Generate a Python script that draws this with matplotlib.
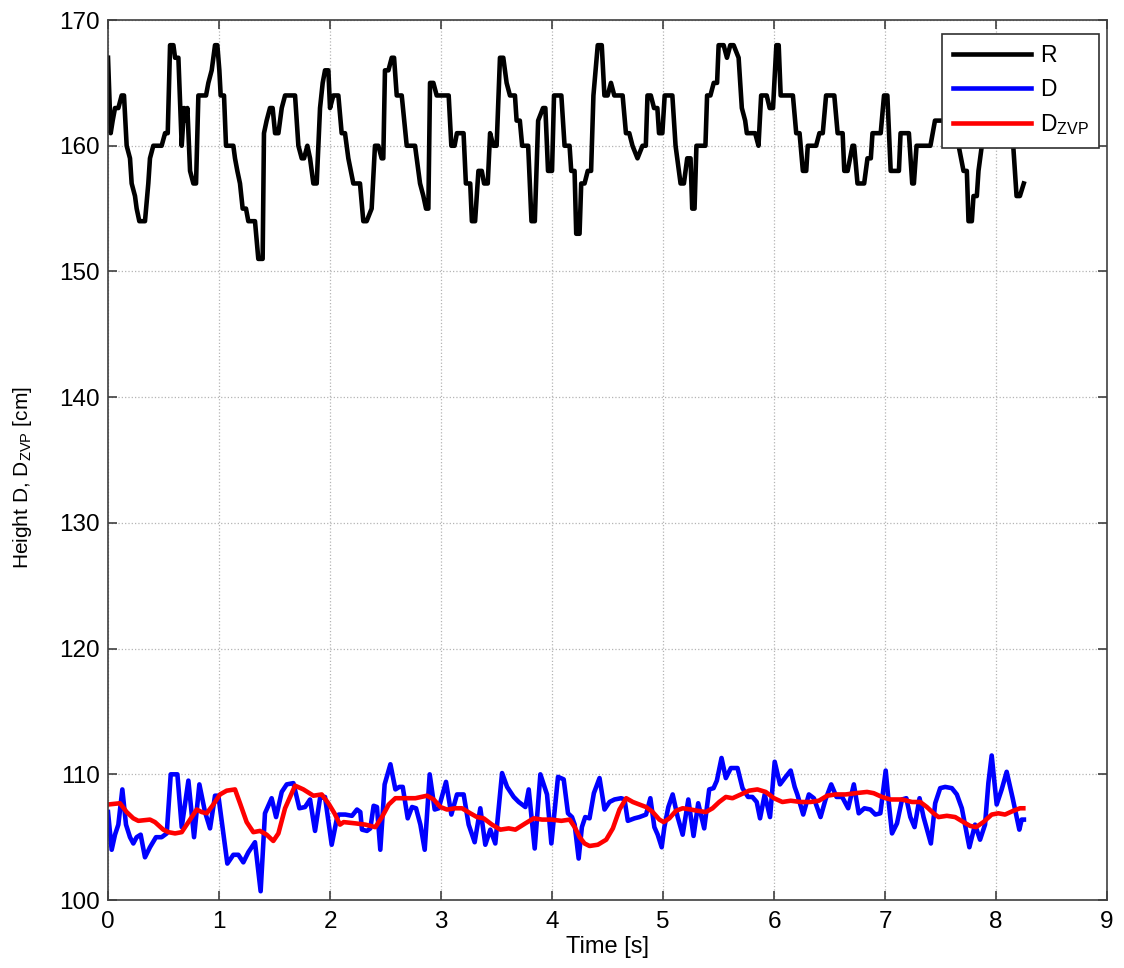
import matplotlib
matplotlib.use("Agg")
import matplotlib.pyplot as plt

plt.rcParams['font.family'] = ['Liberation Sans', 'DejaVu Sans']
plt.rcParams['mathtext.fontset'] = 'custom'
plt.rcParams['mathtext.rm'] = 'Liberation Sans'

# R: reference height (stepwise, cm)
r_t = [0.000, 0.024, 0.042, 0.063, 0.093, 0.123, 0.144, 0.168, 0.198, 0.213,
       0.243, 0.258, 0.282, 0.333, 0.363, 0.378, 0.408, 0.483, 0.514, 0.538,
       0.559, 0.589, 0.604, 0.634, 0.664, 0.685, 0.703, 0.715, 0.739, 0.769,
       0.793, 0.814, 0.883, 0.904, 0.934, 0.964, 0.985, 1.003, 1.015, 1.045,
       1.063, 1.129, 1.144, 1.165, 1.189, 1.213, 1.243, 1.264, 1.324, 1.354,
       1.393, 1.405, 1.429, 1.459, 1.483, 1.505, 1.535, 1.565, 1.595, 1.685,
       1.715, 1.745, 1.766, 1.796, 1.820, 1.850, 1.880, 1.910, 1.934, 1.955,
       1.985, 2.000, 2.030, 2.075, 2.105, 2.135, 2.165, 2.210, 2.270, 2.300,
       2.330, 2.375, 2.405, 2.435, 2.465, 2.480, 2.495, 2.526, 2.556, 2.577,
       2.601, 2.646, 2.691, 2.766, 2.781, 2.811, 2.841, 2.865, 2.886, 2.901,
       2.931, 2.961, 3.069, 3.093, 3.122, 3.143, 3.203, 3.224, 3.263, 3.278,
       3.307, 3.337, 3.367, 3.388, 3.421, 3.442, 3.472, 3.501, 3.531, 3.561,
       3.591, 3.621, 3.666, 3.681, 3.710, 3.731, 3.785, 3.815, 3.845, 3.875,
       3.919, 3.940, 3.964, 4.000, 4.018, 4.084, 4.113, 4.158, 4.173, 4.203,
       4.218, 4.248, 4.263, 4.293, 4.322, 4.352, 4.373, 4.412, 4.448, 4.472,
       4.501, 4.531, 4.561, 4.636, 4.666, 4.696, 4.725, 4.770, 4.815, 4.845,
       4.860, 4.890, 4.919, 4.949, 4.964, 4.994, 5.015, 5.084, 5.113, 5.158,
       5.188, 5.218, 5.248, 5.263, 5.284, 5.301, 5.382, 5.397, 5.427, 5.457,
       5.487, 5.501, 5.546, 5.576, 5.606, 5.636, 5.681, 5.710, 5.740, 5.755,
       5.830, 5.860, 5.884, 5.934, 5.961, 5.991, 6.021, 6.042, 6.060, 6.170,
       6.200, 6.230, 6.260, 6.290, 6.304, 6.379, 6.409, 6.439, 6.469, 6.543,
       6.573, 6.618, 6.633, 6.663, 6.707, 6.722, 6.752, 6.812, 6.842, 6.872,
       6.887, 6.961, 6.991, 7.021, 7.036, 7.051, 7.125, 7.140, 7.215, 7.245,
       7.260, 7.284, 7.409, 7.450, 7.550, 7.620, 7.663, 7.707, 7.737, 7.752,
       7.782, 7.797, 7.827, 7.842, 7.872, 7.887, 7.930, 8.050, 8.100, 8.155,
       8.185, 8.215, 8.250]
r_v = [167, 161, 162, 163, 163, 164, 164, 160, 159, 157,
       156, 155, 154, 154, 157, 159, 160, 160, 161, 161,
       168, 168, 167, 167, 160, 163, 162, 163, 158, 157,
       157, 164, 164, 165, 166, 168, 168, 166, 164, 164,
       160, 160, 159, 158, 157, 155, 155, 154, 154, 151,
       151, 161, 162, 163, 163, 161, 161, 163, 164, 164,
       160, 159, 159, 160, 159, 157, 157, 163, 165, 166,
       166, 163, 164, 164, 161, 161, 159, 157, 157, 154,
       154, 155, 160, 160, 159, 159, 166, 166, 167, 167,
       164, 164, 160, 160, 159, 157, 156, 155, 155, 165,
       165, 164, 164, 160, 160, 161, 161, 157, 157, 154,
       154, 158, 158, 157, 157, 161, 160, 160, 167, 167,
       165, 164, 164, 162, 162, 160, 160, 154, 154, 162,
       163, 163, 158, 158, 164, 164, 160, 160, 158, 158,
       153, 153, 157, 157, 158, 158, 164, 168, 168, 164,
       164, 165, 164, 164, 161, 161, 160, 159, 160, 160,
       164, 164, 163, 163, 161, 161, 164, 164, 160, 157,
       157, 159, 159, 155, 155, 160, 160, 164, 164, 165,
       165, 168, 168, 167, 168, 168, 167, 163, 162, 161,
       161, 160, 164, 164, 163, 163, 168, 168, 164, 164,
       161, 161, 158, 158, 160, 160, 161, 161, 164, 164,
       161, 161, 158, 158, 160, 160, 157, 157, 159, 159,
       161, 161, 164, 164, 161, 158, 158, 161, 161, 157,
       157, 160, 160, 162, 162, 160, 160, 158, 158, 154,
       154, 156, 156, 158, 160, 160, 163, 163, 162, 160,
       156, 156, 157]

# D: measured height
d_t = [0.000, 0.033, 0.063, 0.093, 0.129, 0.162, 0.198, 0.228, 0.258, 0.294,
       0.333, 0.378, 0.432, 0.483, 0.529, 0.565, 0.625, 0.664, 0.724, 0.775,
       0.823, 0.874, 0.919, 0.964, 0.994, 1.033, 1.075, 1.129, 1.174, 1.219,
       1.264, 1.324, 1.375, 1.414, 1.474, 1.514, 1.565, 1.610, 1.670, 1.724,
       1.775, 1.820, 1.865, 1.910, 1.955, 2.015, 2.060, 2.078, 2.138, 2.198,
       2.243, 2.273, 2.288, 2.333, 2.363, 2.393, 2.423, 2.453, 2.492, 2.544,
       2.589, 2.625, 2.655, 2.700, 2.739, 2.775, 2.814, 2.853, 2.898, 2.943,
       2.979, 3.045, 3.093, 3.144, 3.204, 3.249, 3.303, 3.354, 3.399, 3.444,
       3.489, 3.550, 3.595, 3.655, 3.700, 3.760, 3.790, 3.844, 3.895, 3.955,
       3.994, 4.054, 4.105, 4.144, 4.180, 4.204, 4.240, 4.269, 4.299, 4.338,
       4.377, 4.428, 4.473, 4.518, 4.563, 4.623, 4.653, 4.683, 4.743, 4.787,
       4.847, 4.886, 4.922, 4.952, 4.988, 5.012, 5.048, 5.087, 5.132, 5.177,
       5.228, 5.275, 5.317, 5.371, 5.416, 5.455, 5.485, 5.527, 5.566, 5.611,
       5.671, 5.716, 5.766, 5.805, 5.844, 5.874, 5.916, 5.964, 6.006, 6.054,
       6.105, 6.150, 6.186, 6.210, 6.263, 6.314, 6.359, 6.419, 6.464, 6.515,
       6.563, 6.614, 6.668, 6.719, 6.763, 6.814, 6.868, 6.913, 6.958, 7.006,
       7.033, 7.063, 7.108, 7.153, 7.192, 7.228, 7.266, 7.311, 7.347, 7.413,
       7.452, 7.497, 7.542, 7.602, 7.647, 7.692, 7.760, 7.811, 7.856, 7.901,
       7.931, 7.961, 8.006, 8.051, 8.096, 8.150, 8.210, 8.231, 8.251]
d_v = [107.0, 104.0, 105.2, 106.0, 108.8, 106.0, 105.0, 104.5, 105.0, 105.2,
       103.4, 104.2, 105.0, 105.0, 105.3, 110.0, 110.0, 105.8, 109.5, 105.0,
       109.2, 107.0, 105.7, 108.3, 108.3, 105.7, 102.9, 103.6, 103.6, 103.0,
       103.8, 104.6, 100.7, 106.9, 108.1, 106.6, 108.6, 109.2, 109.3, 107.3,
       107.4, 108.0, 105.5, 108.1, 108.2, 104.4, 106.4, 106.8, 106.8, 106.7,
       107.2, 107.0, 105.6, 105.5, 105.7, 107.5, 107.4, 104.0, 109.2, 110.8,
       108.8, 109.0, 109.0, 106.5, 107.4, 107.3, 106.0, 104.0, 110.0, 107.2,
       107.3, 109.4, 106.8, 108.4, 108.4, 106.0, 104.6, 107.3, 104.4, 105.6,
       104.5, 110.1, 109.0, 108.2, 107.8, 107.4, 108.8, 104.1, 110.0, 108.4,
       104.5, 109.8, 109.6, 106.9, 106.6, 106.0, 103.3, 105.8, 106.6, 106.5,
       108.5, 109.7, 107.2, 107.8, 108.0, 108.1, 108.0, 106.3, 106.5, 106.6,
       106.8, 108.1, 105.8, 105.2, 104.2, 105.8, 107.4, 108.4, 106.6, 105.2,
       108.0, 105.1, 107.7, 105.7, 108.8, 108.9, 109.5, 111.3, 109.7, 110.5,
       110.5, 108.9, 108.2, 108.2, 107.8, 106.5, 108.4, 106.6, 111.0, 109.2,
       109.8, 110.3, 109.0, 108.4, 106.8, 108.4, 108.1, 106.6, 108.0, 109.2,
       108.2, 108.2, 107.3, 109.2, 106.9, 107.3, 107.2, 106.8, 106.9, 110.3,
       107.8, 105.3, 106.1, 108.0, 108.1, 106.6, 105.8, 108.1, 106.6, 104.5,
       107.7, 108.9, 109.0, 108.9, 108.4, 107.3, 104.2, 106.0, 104.8, 106.0,
       109.3, 111.5, 107.6, 108.8, 110.2, 108.1, 105.6, 106.4, 106.4]

# D_ZVP: smoothed height at zero-velocity points
z_t = [0.000, 0.108, 0.168, 0.228, 0.273, 0.378, 0.423, 0.498, 0.544, 0.604,
       0.664, 0.724, 0.799, 0.844, 0.889, 0.949, 1.009, 1.069, 1.144, 1.189,
       1.249, 1.309, 1.369, 1.429, 1.489, 1.535, 1.595, 1.685, 1.760, 1.850,
       1.925, 1.985, 2.040, 2.090, 2.123, 2.228, 2.318, 2.408, 2.468, 2.529,
       2.589, 2.679, 2.769, 2.874, 2.934, 2.994, 3.054, 3.129, 3.189, 3.264,
       3.324, 3.384, 3.459, 3.535, 3.610, 3.670, 3.760, 3.835, 3.910, 3.994,
       4.084, 4.159, 4.204, 4.249, 4.293, 4.338, 4.413, 4.488, 4.548, 4.608,
       4.668, 4.728, 4.787, 4.847, 4.907, 4.967, 5.006, 5.057, 5.117, 5.177,
       5.251, 5.311, 5.386, 5.446, 5.506, 5.566, 5.626, 5.701, 5.775, 5.850,
       5.925, 6.000, 6.075, 6.150, 6.240, 6.329, 6.404, 6.479, 6.554, 6.644,
       6.734, 6.838, 6.898, 6.973, 7.048, 7.153, 7.243, 7.317, 7.377, 7.437,
       7.482, 7.557, 7.632, 7.707, 7.766, 7.820, 7.886, 7.961, 8.021, 8.081,
       8.156, 8.216, 8.246]
z_v = [107.6, 107.7, 107.0, 106.5, 106.3, 106.4, 106.2, 105.6, 105.4, 105.3,
       105.4, 106.2, 107.2, 107.0, 106.9, 107.6, 108.4, 108.7, 108.8, 107.7,
       106.2, 105.4, 105.5, 105.2, 104.7, 105.3, 107.3, 109.1, 108.8, 108.3,
       108.4, 107.7, 106.9, 106.0, 106.2, 106.1, 106.0, 105.8, 106.6, 107.6,
       108.1, 108.1, 108.1, 108.3, 108.0, 107.4, 107.2, 107.3, 107.3, 106.9,
       106.6, 106.5, 106.0, 105.6, 105.7, 105.6, 106.1, 106.5, 106.4, 106.4,
       106.3, 106.4, 105.8, 105.0, 104.5, 104.3, 104.4, 104.8, 105.7, 107.2,
       108.1, 107.8, 107.6, 107.4, 107.0, 106.4, 106.2, 106.5, 107.1, 107.3,
       107.2, 107.1, 107.0, 107.3, 107.8, 108.2, 108.1, 108.4, 108.7, 108.8,
       108.6, 108.1, 107.8, 107.9, 107.8, 107.8, 107.9, 108.3, 108.4, 108.4,
       108.5, 108.6, 108.5, 108.2, 108.0, 108.0, 107.8, 107.8, 107.4, 106.9,
       106.6, 106.7, 106.6, 106.2, 105.9, 105.8, 106.2, 106.8, 106.9, 106.8,
       107.1, 107.3, 107.3]

fig = plt.figure(figsize=(11.24, 9.68), dpi=100)
ax = fig.add_axes([0.0961, 0.0702, 0.8888, 0.9091])

ax.plot(r_t, r_v, color='black', linewidth=3.3, label='R')
ax.plot(d_t, d_v, color='#0000ff', linewidth=3.3, label='D')
ax.plot(z_t, z_v, color='#ff0000', linewidth=3.3, label=r'D$_\mathregular{ZVP}$')

ax.set_xlim(0, 9)
ax.set_ylim(100, 170)
ax.set_xticks(range(0, 10))
ax.set_yticks(range(100, 171, 10))
ax.grid(True, linestyle=':', color='#b4b4b4', linewidth=0.9)

for s in ax.spines.values():
    s.set_color('#404040')
    s.set_linewidth(1.2)
ax.tick_params(direction='in', length=6.5, width=1.2, color='#404040',
               top=True, right=True, labelsize=17.5, pad=6)
ax.tick_params(axis='x', pad=8)

ax.set_xlabel('Time [s]', fontsize=17)
ax.set_ylabel(r'Height D, D$_\mathregular{ZVP}$ [cm]', fontsize=15)
ax.xaxis.set_label_coords(0.5, -0.041)
ax.yaxis.set_label_coords(-0.074, 0.48)

leg = ax.legend(loc='upper right', bbox_to_anchor=(0.992, 0.984),
                fontsize=16.5, handlelength=3.4, handletextpad=0.4,
                fancybox=False, framealpha=1, edgecolor='#303030',
                borderaxespad=0, borderpad=0.45, labelspacing=0.48)
leg.get_frame().set_linewidth(1.2)

fig.savefig('out.png', dpi=100)
